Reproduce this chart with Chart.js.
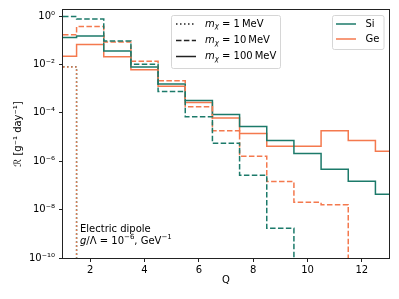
<!DOCTYPE html>
<html>
<head>
<meta charset="utf-8">
<script src="https://cdn.jsdelivr.net/npm/chart.js@4/dist/chart.umd.min.js"></script>
<style>
  html, body { margin: 0; padding: 0; background: #fff; }
</style>
</head>
<body>
<canvas id="chart" width="399" height="299"></canvas>
<script>
// Q bins (histogram centres)
const qBins = [1, 2, 3, 4, 5, 6, 7, 8, 9, 10, 11, 12, 13];

// rates per bin, g^-1 day^-1 (0 = nothing in that bin)
const siM1 = [8.0e-3, 0, 0, 0, 0, 0, 0, 0, 0, 0, 0, 0, 0];
const geM1 = [7.8e-3, 0, 0, 0, 0, 0, 0, 0, 0, 0, 0, 0, 0];
const siM10 = [0.95, 0.75, 0.093, 0.0102, 7.6e-4, 6.9e-5, 5.5e-6, 2.6e-7, 1.7e-9, 0, 0, 0, 0];
const geM10 = [0.17, 0.37, 0.085, 0.0135, 2.1e-3, 1.8e-4, 1.8e-5, 1.6e-6, 1.45e-7, 2.0e-8, 1.6e-8, 0, 0];
const siM100 = [0.13, 0.15, 0.036, 7.9e-3, 1.54e-3, 3.2e-4, 8.5e-5, 2.7e-5, 7.1e-6, 2.1e-6, 4.7e-7, 1.5e-7, 4.3e-8];
const geM100 = [0.022, 0.066, 0.021, 6.0e-3, 1.26e-3, 2.7e-4, 6.1e-5, 1.4e-5, 4.2e-6, 4.2e-6, 1.8e-5, 7.1e-6, 2.6e-6];

// axis ticks
const xTicks = [2, 4, 6, 8, 10, 12];
const yTickExponents = [0, -2, -4, -6, -8, -10];

const xMin = 1, xMax = 13;
const yMin = 1e-10, yMax = Math.pow(10, 0.25);

const SI_COLOR = '#1c7a6a';
const GE_COLOR = '#f4794e';
const FONT = '"DejaVu Sans", sans-serif';

const DASHED = [5.5, 2.4];
const DOTTED = [1.5, 2.5];

const SUP = { '-': '⁻', '0': '⁰', '1': '¹', '2': '²', '3': '³', '4': '⁴', '5': '⁵', '6': '⁶', '7': '⁷', '8': '⁸', '9': '⁹' };
function sup(s) {
    return String(s).split('').map(c => SUP[c] || c).join('');
}

/**
 * Turn per-bin values into step points at the bin edges.
 * A zero bin drops the line below the axis and ends it.
 */
function stepPoints(values) {
    const pts = [];
    let ended = false;
    const last = values.length - 1;
    values.forEach((v, i) => {
        const left = Math.max(qBins[i] - 0.5, xMin);
        if (ended) {
            pts.push({ x: left, y: null });
            return;
        }
        if (v === 0) {
            pts.push({ x: left, y: yMin / 100 });
            ended = true;
            return;
        }
        pts.push({ x: left, y: v });
    });
    if (!ended) {
        pts.push({ x: Math.min(qBins[last] + 0.5, xMax), y: values[last] });
    }
    return pts;
}

function makeDataset(label, values, color, dash) {
    return {
        label: label,
        data: stepPoints(values),
        borderColor: color,
        backgroundColor: color,
        borderWidth: 1.5,
        borderDash: dash,
        borderCapStyle: 'butt',
        stepped: 'before',
        pointRadius: 0,
        fill: false,
        spanGaps: false
    };
}

// Frame plus the two legends and the note, drawn on top of the plot
const decorations = {
    id: 'decorations',
    afterDraw(chart) {
        const ctx = chart.ctx;
        const a = chart.chartArea;
        ctx.save();

        // full axes frame
        ctx.strokeStyle = '#222';
        ctx.lineWidth = 1;
        ctx.strokeRect(Math.round(a.left) - 0.5, Math.round(a.top) - 0.5,
            Math.round(a.right - a.left) + 1, Math.round(a.bottom - a.top) + 1);

        // mass legend
        legendBox(ctx, 171.5, 15.5, 109, 53);
        const massRows = [
            { mass: '1', dash: DOTTED, y: 24 },
            { mass: '10', dash: DASHED, y: 40.5 },
            { mass: '100', dash: [], y: 56.5 }
        ];
        massRows.forEach(r => {
            handle(ctx, 176, 196, r.y, '#222', r.dash);
            massLabel(ctx, 205, r.y, r.mass);
        });

        // material legend
        legendBox(ctx, 332.5, 15.5, 51.5, 34);
        handle(ctx, 336, 356, 24, SI_COLOR, []);
        handle(ctx, 336, 356, 39, GE_COLOR, []);
        ctx.fillStyle = '#000';
        ctx.textBaseline = 'middle';
        ctx.textAlign = 'left';
        ctx.font = '10px ' + FONT;
        ctx.fillText('Si', 365.5, 24);
        ctx.fillText('Ge', 365.5, 39);

        // note in lower left
        ctx.fillText('Electric dipole', 80, 229);
        let x = 80;
        const y = 241;
        ctx.font = 'italic 10px ' + FONT;
        ctx.fillText('g', x, y);
        x += ctx.measureText('g').width;
        ctx.font = '10px ' + FONT;
        ctx.fillText('/Λ = 10', x, y);
        x += ctx.measureText('/Λ = 10').width;
        ctx.font = '7px ' + FONT;
        ctx.fillText('−6', x, y - 4);
        x += ctx.measureText('−6').width;
        ctx.font = '10px ' + FONT;
        ctx.fillText(', GeV', x, y);
        x += ctx.measureText(', GeV').width;
        ctx.font = '7px ' + FONT;
        ctx.fillText('−1', x, y - 4);

        ctx.restore();
    }
};

function legendBox(ctx, x, y, w, h) {
    ctx.save();
    ctx.fillStyle = 'rgba(255,255,255,0.8)';
    ctx.strokeStyle = '#d6d6d6';
    ctx.lineWidth = 1;
    ctx.beginPath();
    ctx.roundRect(x, y, w, h, 2);
    ctx.fill();
    ctx.stroke();
    ctx.restore();
}

function handle(ctx, x0, x1, y, color, dash) {
    ctx.save();
    ctx.strokeStyle = color;
    ctx.lineWidth = 1.5;
    ctx.setLineDash(dash);
    ctx.beginPath();
    ctx.moveTo(x0, y);
    ctx.lineTo(x1, y);
    ctx.stroke();
    ctx.restore();
}

function massLabel(ctx, x, y, mass) {
    ctx.save();
    ctx.fillStyle = '#000';
    ctx.textBaseline = 'middle';
    ctx.textAlign = 'left';
    ctx.font = 'italic 10px ' + FONT;
    ctx.fillText('m', x, y);
    x += ctx.measureText('m').width;
    ctx.font = 'italic 7px ' + FONT;
    ctx.fillText('χ', x, y + 2.5);
    x += ctx.measureText('χ').width;
    ctx.font = '10px ' + FONT;
    const rest = ' = ' + mass + '\u2009MeV';
    ctx.fillText(rest, x, y);
    ctx.restore();
}

function initChart() {
    const canvas = document.getElementById('chart');
    if (!canvas) {
        console.error('Cannot find chart canvas');
        return;
    }
    if (typeof Chart === 'undefined') {
        console.error('Chart.js is not loaded');
        return;
    }

    const datasets = [
        makeDataset('Ge 1 MeV', geM1, GE_COLOR, DOTTED),
        makeDataset('Si 1 MeV', siM1, SI_COLOR, DOTTED),
        makeDataset('Si 10 MeV', siM10, SI_COLOR, DASHED),
        makeDataset('Ge 10 MeV', geM10, GE_COLOR, DASHED),
        makeDataset('Si 100 MeV', siM100, SI_COLOR, []),
        makeDataset('Ge 100 MeV', geM100, GE_COLOR, [])
    ];

    new Chart(canvas.getContext('2d'), {
        type: 'line',
        data: { datasets: datasets },
        options: {
            responsive: false,
            animation: false,
            devicePixelRatio: 1,
            layout: { padding: { left: 0, right: 10, top: 9, bottom: 0 } },
            plugins: {
                legend: { display: false },
                tooltip: { enabled: false }
            },
            scales: {
                x: {
                    type: 'linear',
                    min: xMin,
                    max: xMax,
                    afterBuildTicks: scale => {
                        scale.ticks = xTicks.map(v => ({ value: v }));
                    },
                    afterFit: scale => { scale.height = 41; },
                    ticks: {
                        color: '#000',
                        font: { family: FONT, size: 10 },
                        padding: 2,
                        maxRotation: 0,
                        callback: v => String(v)
                    },
                    grid: {
                        display: true,
                        drawOnChartArea: false,
                        drawTicks: true,
                        tickLength: 4,
                        color: '#222'
                    },
                    border: { display: false },
                    title: {
                        display: true,
                        text: 'Q',
                        color: '#000',
                        font: { family: FONT, size: 10 },
                        padding: { top: 0, bottom: 13 }
                    }
                },
                y: {
                    type: 'logarithmic',
                    min: yMin,
                    max: yMax,
                    afterBuildTicks: scale => {
                        scale.ticks = yTickExponents.map(e => ({ value: Math.pow(10, e) }));
                    },
                    afterFit: scale => { scale.width = 63; },
                    ticks: {
                        color: '#000',
                        font: { family: FONT, size: 10 },
                        padding: 4,
                        callback: v => '10' + sup(Math.round(Math.log10(v)))
                    },
                    grid: {
                        display: true,
                        drawOnChartArea: false,
                        drawTicks: true,
                        tickLength: 4,
                        color: '#222'
                    },
                    border: { display: false },
                    title: {
                        display: true,
                        text: 'ℛ [g⁻¹ day⁻¹]',
                        color: '#000',
                        font: { family: FONT, size: 10 },
                        padding: { top: 12, bottom: 0 }
                    }
                }
            }
        },
        plugins: [decorations]
    });
}

initChart();
</script>
</body>
</html>
